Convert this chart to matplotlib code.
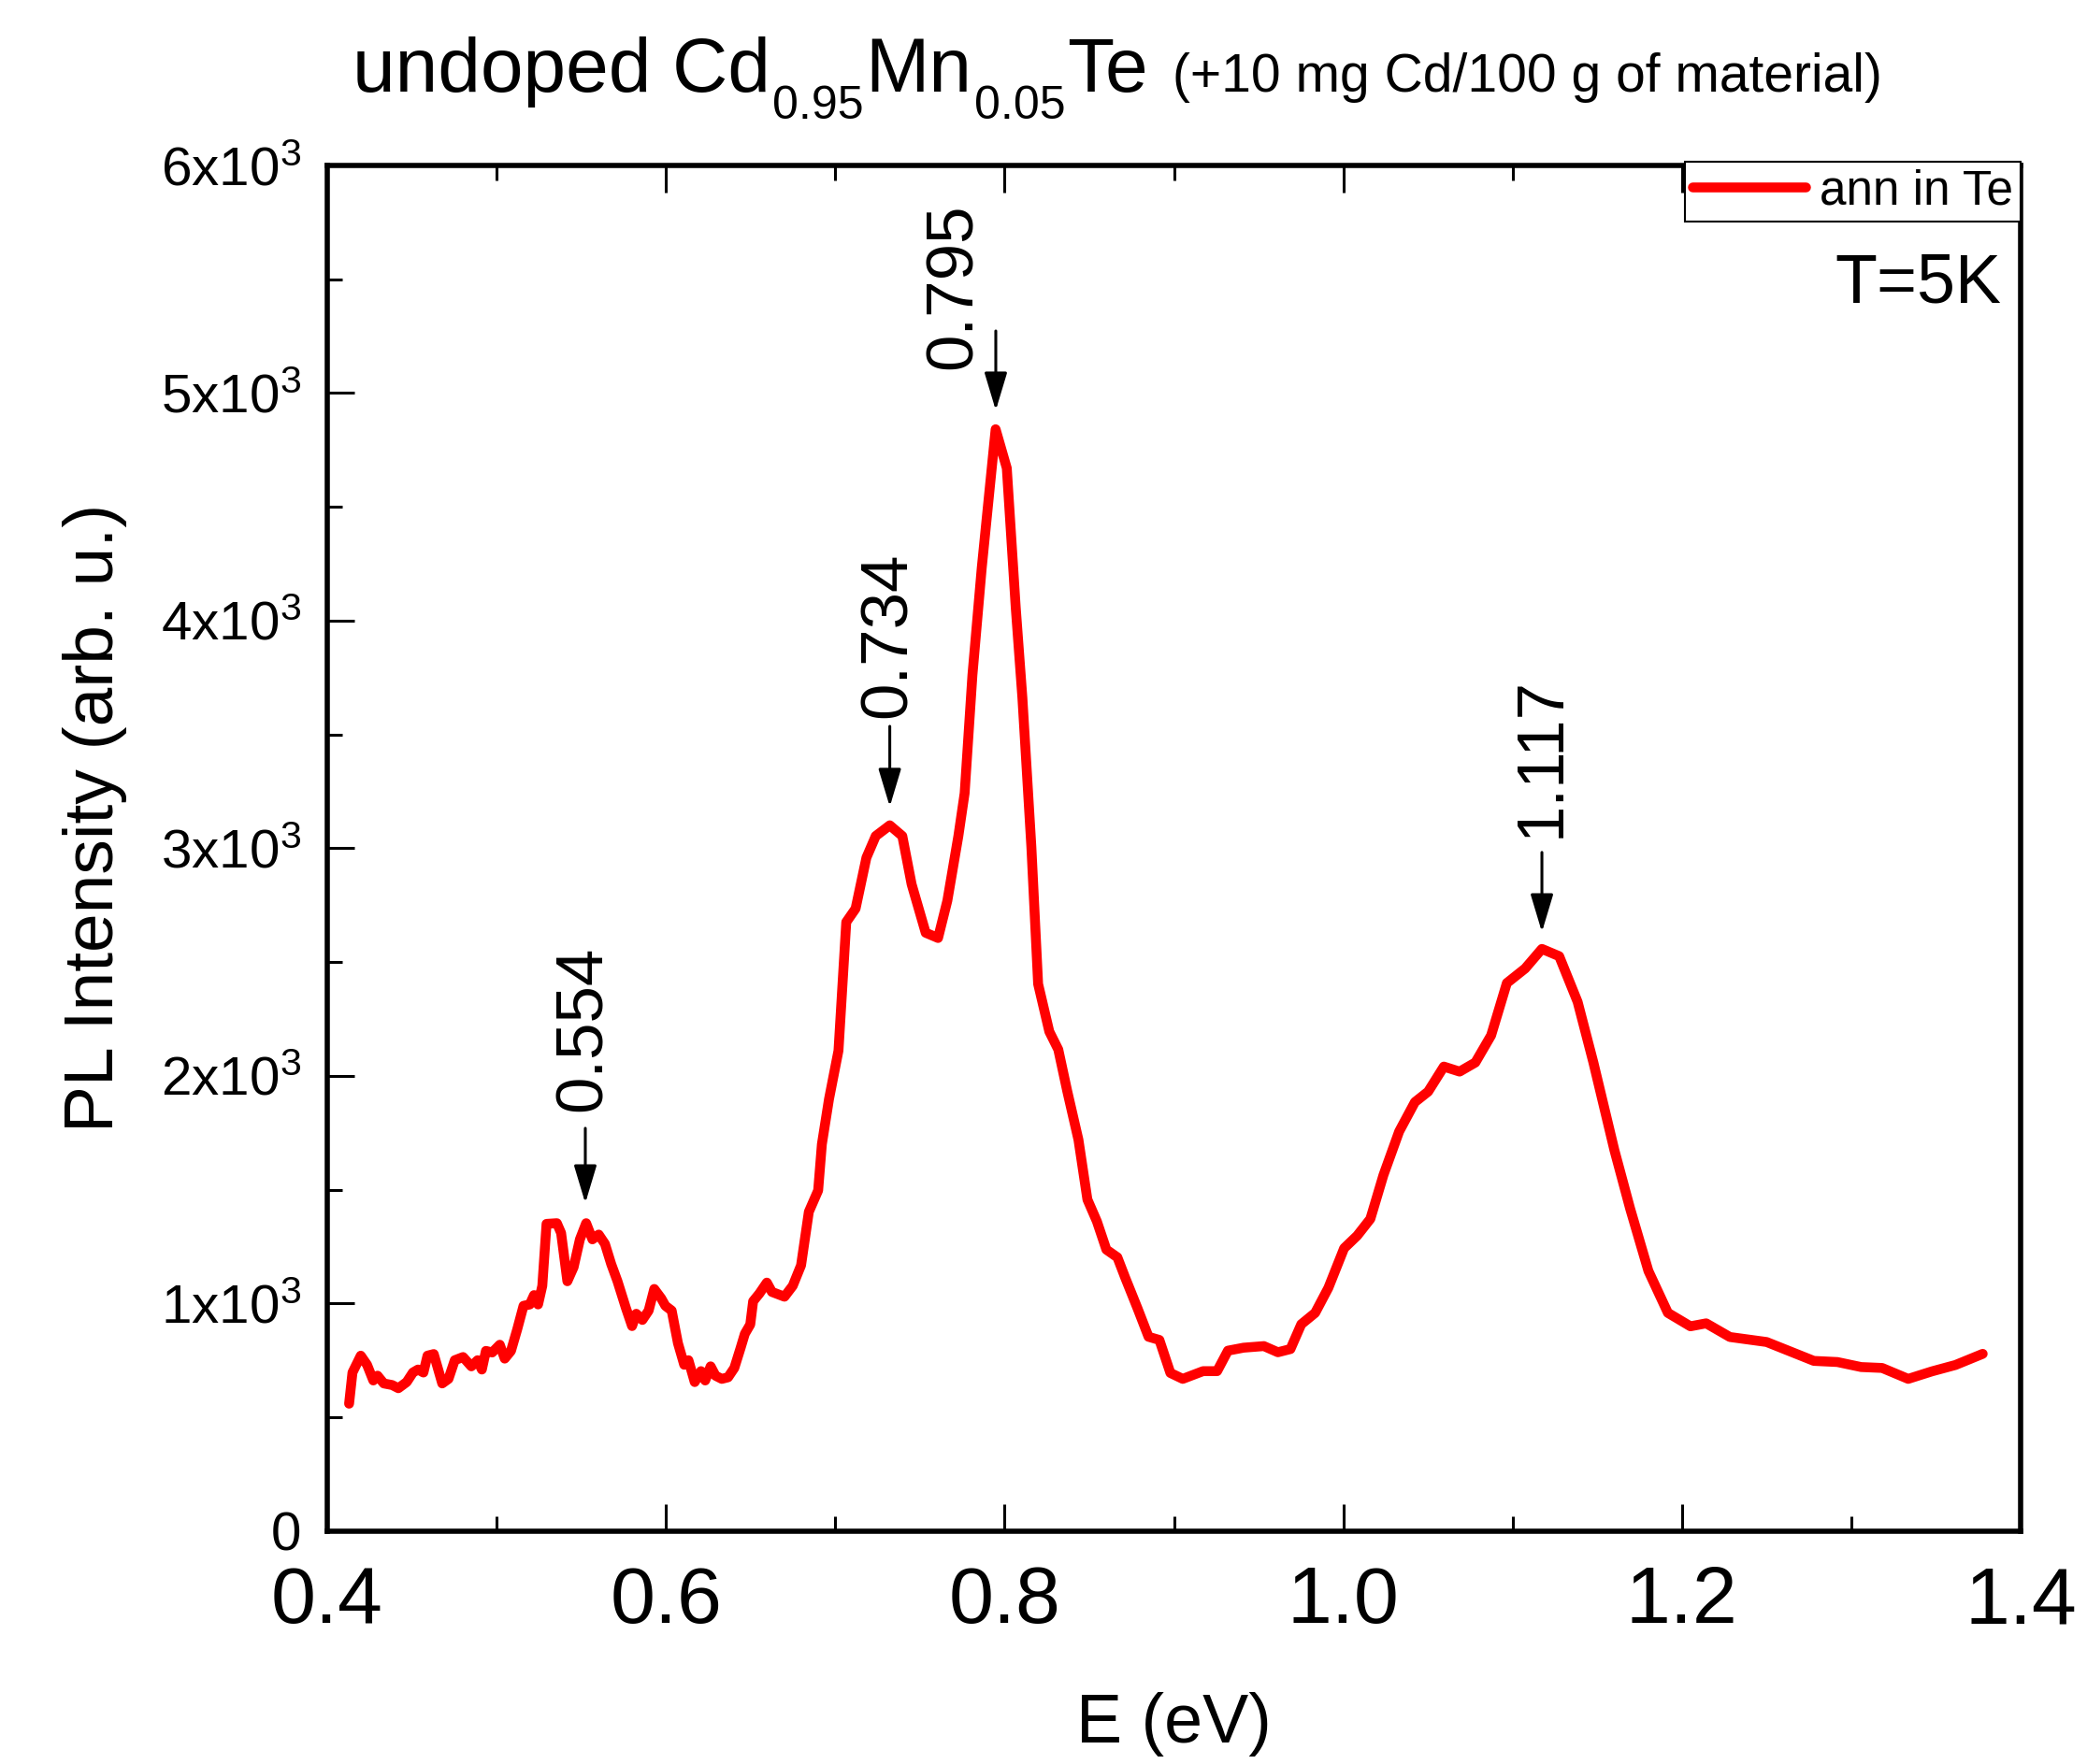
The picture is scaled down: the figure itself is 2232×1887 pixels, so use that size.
import matplotlib
matplotlib.use("Agg")
import matplotlib.pyplot as plt
from matplotlib.ticker import MultipleLocator, FixedLocator
import numpy as np

plt.rcParams['font.family'] = ['Liberation Sans', 'DejaVu Sans']
plt.rcParams['mathtext.default'] = 'regular'

# PL spectrum (E in eV, intensity in arb. u.)
energy = [0.4129, 0.4149, 0.4198, 0.4235, 0.4272, 0.4297, 0.4334, 0.4383, 0.4420, 0.4469,
          0.4506, 0.4536, 0.4568, 0.4592, 0.4629, 0.4679, 0.4716, 0.4753, 0.4802, 0.4851,
          0.4888, 0.4913, 0.4937, 0.4974, 0.5019, 0.5048, 0.5085, 0.5122, 0.5159, 0.5196,
          0.5221, 0.5245, 0.5270, 0.5295, 0.5356, 0.5381, 0.5418, 0.5455, 0.5492, 0.5529,
          0.5566, 0.5603, 0.5640, 0.5677, 0.5714, 0.5763, 0.5800, 0.5825, 0.5861, 0.5898,
          0.5931, 0.5972, 0.5997, 0.6034, 0.6071, 0.6108, 0.6133, 0.6170, 0.6207, 0.6232,
          0.6264, 0.6293, 0.6330, 0.6367, 0.6404, 0.6441, 0.6466, 0.6498, 0.6515, 0.6552,
          0.6596, 0.6626, 0.6700, 0.6749, 0.6798, 0.6844, 0.6899, 0.6921, 0.6963, 0.7019,
          0.7065, 0.7120, 0.7184, 0.7239, 0.7322, 0.7396, 0.7451, 0.7534, 0.7607, 0.7662,
          0.7727, 0.7764, 0.7810, 0.7865, 0.7947, 0.8013, 0.8066, 0.8105, 0.8158, 0.8198,
          0.8264, 0.8317, 0.8370, 0.8436, 0.8489, 0.8545, 0.8601, 0.8666, 0.8712, 0.8786,
          0.8850, 0.8914, 0.8979, 0.9052, 0.9172, 0.9255, 0.9319, 0.9411, 0.9531, 0.9614,
          0.9688, 0.9752, 0.9834, 0.9912, 1.0005, 1.0082, 1.0160, 1.0237, 1.0330, 1.0423,
          1.0501, 1.0594, 1.0687, 1.0780, 1.0873, 1.0966, 1.1074, 1.1173, 1.1275, 1.1384,
          1.1477, 1.1601, 1.1694, 1.1802, 1.1917, 1.2050, 1.2143, 1.2283, 1.2500, 1.2655,
          1.2779, 1.2918, 1.3058, 1.3182, 1.3336, 1.3476, 1.3615, 1.3776]
intensity = [560, 697, 771, 731, 662, 683, 649, 642, 628, 655,
             697, 710, 697, 771, 778, 649, 669, 751, 765, 724,
             751, 710, 792, 785, 819, 758, 792, 887, 990, 996,
             1037, 996, 1078, 1350, 1353, 1310, 1098, 1160, 1282, 1353,
             1282, 1303, 1262, 1173, 1098, 982, 901, 955, 928, 969,
             1064, 1023, 990, 969, 826, 731, 751, 655, 703, 662,
             724, 683, 669, 676, 717, 805, 867, 908, 1010, 1044,
             1092, 1051, 1030, 1078, 1168, 1403, 1497, 1700, 1898, 2111,
             2676, 2735, 2959, 3054, 3101, 3054, 2842, 2629, 2606, 2770,
             3054, 3242, 3761, 4232, 4841, 4670, 4055, 3662, 3007, 2404,
             2195, 2116, 1933, 1720, 1457, 1361, 1237, 1203, 1114, 977,
             854, 840, 695, 669, 703, 703, 793, 806, 813, 786,
             800, 909, 959, 1069, 1243, 1298, 1372, 1564, 1756, 1885,
             1931, 2041, 2019, 2059, 2178, 2408, 2472, 2558, 2526, 2325,
             2059, 1674, 1417, 1143, 959, 900, 913, 853, 831, 785,
             748, 743, 721, 717, 669, 702, 730, 779]

peak_labels = ["0.554", "0.734", "0.795", "1.117"]

x_ticks = [0.4, 0.6, 0.8, 1.0, 1.2, 1.4]
x_ticklabels = ["0.4", "0.6", "0.8", "1.0", "1.2", "1.4"]
y_ticks = [0, 1000, 2000, 3000, 4000, 5000, 6000]
y_ticklabels = ["0", "1x10$^3$", "2x10$^3$", "3x10$^3$", "4x10$^3$", "5x10$^3$", "6x10$^3$"]

# title pieces: (text, is subscript)
title_parts = [("undoped Cd", False), ("0.95", True), ("Mn", False), ("0.05", True), ("Te", False)]
subtitle = "(+10 mg Cd/100 g of material)"

# arrow (x, tip, tail) and label centre for each peak, in data units
arrow_pos = [(0.5524, 1441, 1770), (0.7322, 3183, 3536), (0.7948, 4924, 5273), (1.1173, 2632, 2982)]
label_pos = [(0.5518, 2209), (0.7318, 3938), (0.7705, 5470), (1.1178, 3400)]

W, H = 2232, 1887
fig = plt.figure(figsize=(W / 100, H / 100), dpi=100)
ax = fig.add_axes([0.1568, 0.1320, 0.8114, 0.7742])

ax.plot(energy, intensity, color='#ff0000', lw=7.6, solid_joinstyle='round',
        solid_capstyle='round', label='ann in Te')

ax.set_xlim(0.4, 1.4)
ax.set_ylim(0, 6000)
ax.xaxis.set_major_locator(FixedLocator(x_ticks))
ax.set_xticklabels(x_ticklabels)
ax.xaxis.set_minor_locator(MultipleLocator(0.1))
ax.yaxis.set_major_locator(FixedLocator(y_ticks))
ax.set_yticklabels(y_ticklabels)
ax.yaxis.set_minor_locator(MultipleLocator(500))

ax.tick_params(axis='both', which='both', direction='in', top=True, right=False, width=2.2)
ax.tick_params(axis='both', which='major', length=21)
ax.tick_params(axis='both', which='minor', length=11.5)
ax.tick_params(axis='x', which='major', labelsize=62, pad=26)
ax.tick_params(axis='y', which='major', labelsize=42, pad=20)
for s in ax.spines.values():
    s.set_linewidth(4)

ax.set_xlabel('E (eV)', fontsize=53)
ax.set_ylabel('PL Intensity (arb. u.)', fontsize=54)
ax.xaxis.set_label_coords(0.5, -0.118)
ax.yaxis.set_label_coords(-0.118, 0.522)

for lab, (ax_x, tip, tail), (tx, ty) in zip(peak_labels, arrow_pos, label_pos):
    ax.annotate('', xy=(ax_x, tip), xytext=(ax_x, tail),
                arrowprops=dict(arrowstyle='-|>,head_length=0.5,head_width=0.15',
                                mutation_scale=50, lw=2.2, color='black',
                                shrinkA=0, shrinkB=0))
    ax.text(tx, ty, lab, rotation=90, ha='center', va='center', fontsize=51)

ax.text(0.9884, 0.900, 'T=5K', transform=ax.transAxes, ha='right', va='baseline', fontsize=53)

leg = ax.legend(loc='upper right', bbox_to_anchor=(1.0, 1.003), borderaxespad=0,
                fontsize=37, handlelength=2.35, handletextpad=0.3, borderpad=0.15,
                fancybox=False, framealpha=1)
leg.get_frame().set_edgecolor('black')
leg.get_frame().set_linewidth(1.5)

# title built piece by piece so the subscripts can be small and low
renderer = fig.canvas.get_renderer()
x_px = 377
base_px = H - 98
for txt, sub in title_parts:
    size = 36 if sub else 59
    y_px = base_px - 29 if sub else base_px
    t = fig.text(x_px / W, y_px / H, txt, fontsize=size, ha='left', va='baseline')
    x_px = t.get_window_extent(renderer).x1 + 2
fig.text((x_px + 24) / W, base_px / H, subtitle, fontsize=41, ha='left', va='baseline')

fig.savefig('out.png', dpi=100)
